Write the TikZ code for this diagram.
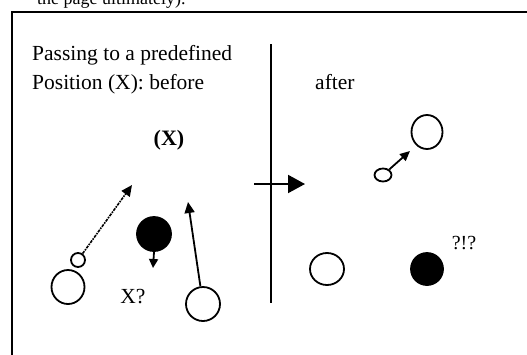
\documentclass[tikz,border=0pt]{standalone}
\usepackage{fontspec}
\setmainfont{Liberation Serif}
\usetikzlibrary{arrows.meta,shapes.geometric}
\begin{document}
\begin{tikzpicture}[x=1pt,y=-1pt,
  token/.style={ellipse,draw,line width=1.8pt,inner sep=0pt},
  hollow/.style={token,fill=white},
  solid/.style={token,fill=black},
  label/.style={inner sep=0pt,font=\fontsize{21.5}{25}\selectfont},
  move/.style={line width=1.8pt,-{Triangle[length=11pt,width=10pt]}},
  bigmove/.style={line width=2pt,-{Triangle[length=17pt,width=18pt]}}]
\useasboundingbox (0,0) rectangle (527,354);
\clip (0,0) rectangle (527,354);

% surrounding frame (runs past the page) and the line of text above it
\node[inner sep=0pt,anchor=base west,font=\fontsize{18}{21}\selectfont] (pagetext) at (37,4) {the page ultimately).};
\draw[line width=2pt] (12,370) -- (12,12) -- (540,12);

% headings
\node[label,anchor=base west] (head1) at (32,60) {Passing to a predefined};
\node[label,anchor=base west] (head2) at (32,89) {Position (X): before};
\node[label,anchor=base west] (after) at (315,89) {after};

% divider between the two situations, and the transition arrow
\coordinate (divtop) at (271,44);
\coordinate (divbot) at (271,303);
\draw[line width=2pt] (divtop) -- (divbot);
\coordinate (trfrom) at (254,184);
\coordinate (trto) at (305,184);
\draw[bigmove] (trfrom) -- (trto);

% before
\node[label,font=\bfseries\fontsize{22}{26}\selectfont] (target) at (169,140) {(X)};
\node[hollow,minimum width=33pt,minimum height=34pt] (lbig) at (68,287) {};
\node[hollow,minimum width=14pt,minimum height=14pt] (lsmall) at (78,260) {};
\node[solid,minimum width=34pt,minimum height=34pt] (lsolid) at (154,234) {};
\node[hollow,minimum width=34pt,minimum height=34pt] (rbig) at (203,304) {};
\node[label] (xq) at (133,297) {X?};
\coordinate (passend) at (132,185);
\coordinate (runend) at (188,202);
\coordinate (stepend) at (153,268);
\draw[line width=1.6pt,densely dashdotted,-{Triangle[length=11pt,width=10pt]}] (lsmall) -- (passend);
\draw[move] (rbig) -- (runend);
\draw[move,-{Triangle[length=9pt,width=9pt]}] (lsolid.south) -- (stepend);

% after
\node[hollow,minimum width=31pt,minimum height=34pt] (abig) at (427,132) {};
\node[hollow,minimum width=17pt,minimum height=13pt] (asmall) at (383,175) {};
\coordinate (aend) at (410,151);
\draw[move,-{Triangle[length=10pt,width=9pt]}] (asmall) -- (aend);
\node[hollow,minimum width=34pt,minimum height=32pt] (aopen) at (327,269) {};
\node[solid,minimum width=32pt,minimum height=32pt] (asolid) at (427,269) {};
\node[label,font=\fontsize{20}{24}\selectfont] (puzzle) at (464,243) {?!?};
\end{tikzpicture}
\end{document}
